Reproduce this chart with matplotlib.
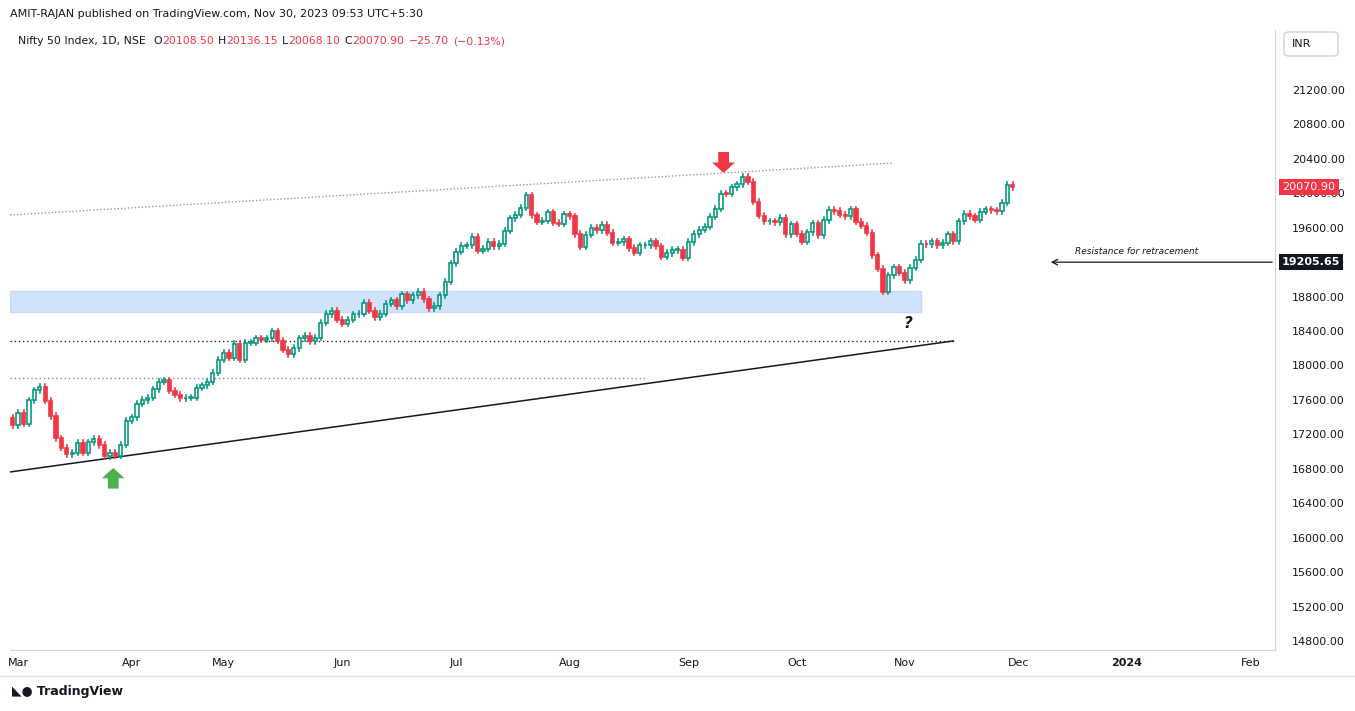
import numpy as np
import matplotlib.pyplot as plt
from matplotlib.patches import Rectangle, FancyBboxPatch, Polygon

# daily closes, Feb 28 2023 .. Nov 30 2023 (trading days)
dates = ["Feb 28",
         "Mar 1", "Mar 2", "Mar 3", "Mar 6", "Mar 8", "Mar 9", "Mar 10", "Mar 13", "Mar 14", "Mar 15",
         "Mar 16", "Mar 17", "Mar 20", "Mar 21", "Mar 22", "Mar 23", "Mar 24", "Mar 27", "Mar 28", "Mar 29", "Mar 31",
         "Apr 3", "Apr 5", "Apr 6", "Apr 10", "Apr 11", "Apr 12", "Apr 13", "Apr 17", "Apr 18", "Apr 19",
         "Apr 20", "Apr 21", "Apr 24", "Apr 25", "Apr 26", "Apr 27", "Apr 28",
         "May 2", "May 3", "May 4", "May 5", "May 8", "May 9", "May 10", "May 11", "May 12", "May 15", "May 16",
         "May 17", "May 18", "May 19", "May 22", "May 23", "May 24", "May 25", "May 26", "May 29", "May 30", "May 31",
         "Jun 1", "Jun 2", "Jun 5", "Jun 6", "Jun 7", "Jun 8", "Jun 9", "Jun 12", "Jun 13", "Jun 14", "Jun 15",
         "Jun 16", "Jun 19", "Jun 20", "Jun 21", "Jun 22", "Jun 23", "Jun 26", "Jun 27", "Jun 28", "Jun 30",
         "Jul 3", "Jul 4", "Jul 5", "Jul 6", "Jul 7", "Jul 10", "Jul 11", "Jul 12", "Jul 13", "Jul 14", "Jul 17",
         "Jul 18", "Jul 19", "Jul 20", "Jul 21", "Jul 24", "Jul 25", "Jul 26", "Jul 27", "Jul 28", "Jul 31",
         "Aug 1", "Aug 2", "Aug 3", "Aug 4", "Aug 7", "Aug 8", "Aug 9", "Aug 10", "Aug 11", "Aug 14", "Aug 16",
         "Aug 17", "Aug 18", "Aug 21", "Aug 22", "Aug 23", "Aug 24", "Aug 25", "Aug 28", "Aug 29", "Aug 30", "Aug 31",
         "Sep 1", "Sep 4", "Sep 5", "Sep 6", "Sep 7", "Sep 8", "Sep 11", "Sep 12", "Sep 13", "Sep 14", "Sep 15",
         "Sep 18", "Sep 20", "Sep 21", "Sep 22", "Sep 25", "Sep 26", "Sep 27", "Sep 28", "Sep 29",
         "Oct 3", "Oct 4", "Oct 5", "Oct 6", "Oct 9", "Oct 10", "Oct 11", "Oct 12", "Oct 13", "Oct 16", "Oct 17",
         "Oct 18", "Oct 19", "Oct 20", "Oct 23", "Oct 25", "Oct 26", "Oct 27", "Oct 30", "Oct 31",
         "Nov 1", "Nov 2", "Nov 3", "Nov 6", "Nov 7", "Nov 8", "Nov 9", "Nov 10", "Nov 12", "Nov 13", "Nov 15",
         "Nov 16", "Nov 17", "Nov 20", "Nov 21", "Nov 22", "Nov 23", "Nov 24", "Nov 28", "Nov 29", "Nov 30"]

closes = [17304,
          17451, 17322, 17594, 17711, 17754, 17589, 17413, 17154, 17043, 16972,
          16985, 17100, 16988, 17107, 17151, 17077, 16945, 16986, 16951, 17081, 17360,
          17398, 17557, 17599, 17624, 17722, 17812, 17828, 17707, 17660, 17618,
          17624, 17624, 17743, 17769, 17813, 17915, 18065,
          18148, 18090, 18255, 18069, 18264, 18266, 18315, 18297, 18315, 18398, 18286,
          18181, 18129, 18203, 18314, 18348, 18285, 18321, 18499, 18598, 18633, 18534,
          18487, 18534, 18593, 18599, 18726, 18634, 18563, 18601, 18716, 18755, 18688,
          18826, 18755, 18817, 18856, 18771, 18665, 18691, 18817, 18972, 19189,
          19322, 19389, 19398, 19497, 19332, 19355, 19439, 19384, 19413, 19565, 19711,
          19749, 19833, 19979, 19745, 19672, 19680, 19778, 19659, 19646, 19754,
          19733, 19527, 19382, 19517, 19597, 19571, 19633, 19543, 19428, 19434, 19465,
          19365, 19310, 19394, 19396, 19444, 19386, 19265, 19306, 19342, 19347, 19254,
          19435, 19528, 19575, 19611, 19727, 19820, 19996, 19993, 20070, 20103, 20192,
          20133, 19901, 19742, 19674, 19674, 19665, 19716, 19524, 19638,
          19529, 19436, 19545, 19654, 19513, 19690, 19811, 19794, 19751, 19731, 19812,
          19671, 19625, 19543, 19282, 19122, 18857, 19047, 19141, 19080,
          18989, 19134, 19231, 19412, 19407, 19444, 19395, 19425, 19525, 19444, 19676,
          19765, 19732, 19694, 19784, 19812, 19802, 19795, 19890, 20097, 20071]
first_open = 17392

month_labels = ["Mar", "Apr", "May", "Jun", "Jul", "Aug", "Sep", "Oct", "Nov", "Dec", "2024", "Feb"]
month_idx = [1, 22, 39, 61, 82, 103, 125, 145, 165, 186, 206, 229]
yticks = np.arange(14800, 21201, 400)

UP, DN = "#089981", "#f23645"
W, H = 1355, 711
fig = plt.figure(figsize=(W / 100, H / 100), dpi=100)
ax = fig.add_axes([10 / W, 61 / H, 1265 / W, 620 / H])

x = np.arange(len(closes))
opens = [first_open] + closes[:-1]
for i, (o, c) in enumerate(zip(opens, closes)):
    hi, lo = max(o, c) + 30, min(o, c) - 30
    col = UP if c >= o else DN
    ax.plot([i, i], [lo, hi], color=col, lw=1.2, zorder=3)
    ax.add_patch(Rectangle((i - 0.3, min(o, c)), 0.6, max(abs(c - o), 6),
                           facecolor="white" if c >= o else DN, edgecolor=col, lw=1.2, zorder=4))

# drawings
ax.plot([-0.5, 163], [19748, 20352], color="#999999", lw=1, ls=(0, (1, 1.5)))
ax.add_patch(Rectangle((-0.5, 18622), 168.6, 244, facecolor="#d1e3fb", edgecolor="#c3dafa", zorder=1))
ax.plot([-0.5, 174], [18285, 18285], color="#222222", lw=1, ls=(0, (1, 2)))
ax.plot([-0.5, 117], [17855, 17855], color="#888888", lw=1, ls=(0, (1, 2)))
ax.plot([-0.5, 174], [16763, 18285], color="#131722", lw=1.1)


def arrow(xc, tip, base, color):
    mid = tip + (base - tip) * 0.5
    ax.add_patch(Polygon([(xc, tip), (xc - 2.1, mid), (xc - 1.0, mid), (xc - 1.0, base),
                          (xc + 1.0, base), (xc + 1.0, mid), (xc + 2.1, mid)],
                         closed=True, facecolor=color, edgecolor="none", zorder=5))


arrow(18.6, 16810, 16570, "#4caf50")
arrow(131.5, 20236, 20480, "#f23645")
ax.text(165.5, 18430, "?", fontsize=11, fontstyle="italic", fontweight="bold", color="#131722", ha="center")
ax.annotate("", xy=(191.5, 19200), xytext=(233.5, 19200),
            arrowprops=dict(arrowstyle="->", color="#131722", lw=0.9))
ax.text(196.5, 19300, "Resistance for retracement", fontsize=6.5, fontstyle="italic", color="#131722")

ax.set_xlim(-0.5, 233.5)
ax.set_ylim(14695, 21897)
ax.yaxis.tick_right()
ax.set_yticks(yticks)
ax.set_yticklabels(["%.2f" % v for v in yticks])
ax.set_xticks(month_idx)
ax.set_xticklabels(month_labels)
for t in ax.get_xticklabels():
    if t.get_text() == "2024":
        t.set_fontweight("bold")
ax.tick_params(axis="both", labelsize=8, colors="#131722", length=0, pad=6)
ax.tick_params(axis="y", pad=12)
for side in ["top", "left"]:
    ax.spines[side].set_visible(False)
for side in ["right", "bottom"]:
    ax.spines[side].set_color("#d0d3db")


# last price / marker labels on the price scale
def fig_y(v):
    return (61 + 620 * (v - 14695) / (21897 - 14695)) / H


fig.patches.append(Rectangle((1279 / W, fig_y(20071) - 8 / H), 60 / W, 16 / H, transform=fig.transFigure,
                             facecolor=DN, edgecolor="none", zorder=10))
fig.text(1309 / W, fig_y(20071), "20070.90", fontsize=8, color="white", va="center", ha="center", zorder=11)
fig.patches.append(Rectangle((1279 / W, fig_y(19205.65) - 8 / H), 64 / W, 16 / H, transform=fig.transFigure,
                             facecolor="#131722", edgecolor="none", zorder=10))
fig.text(1311 / W, fig_y(19205.65), "19205.65", fontsize=8, color="white", fontweight="bold",
         va="center", ha="center", zorder=11)

# header / footer
fig.text(10 / W, 1 - 14 / H, "AMIT-RAJAN published on TradingView.com, Nov 30, 2023 09:53 UTC+5:30",
         fontsize=8, color="#131722", va="center")
r = fig.canvas.get_renderer()
px = 18
for s, col, gap in [("Nifty 50 Index, 1D, NSE", "#131722", 8), ("O", "#131722", 0), ("20108.50", DN, 4),
                    ("H", "#131722", 0), ("20136.15", DN, 4), ("L", "#131722", 0), ("20068.10", DN, 4),
                    ("C", "#131722", 0), ("20070.90", DN, 5), ("\u221225.70", DN, 4), ("(\u22120.13%)", DN, 0)]:
    t = fig.text(px / W, 1 - 41 / H, s, fontsize=7.8, color=col, va="center")
    px += t.get_window_extent(r).width + gap
fig.patches.append(FancyBboxPatch((1284 / W, 1 - 56 / H), 54 / W, 24 / H, boxstyle="round,pad=0,rounding_size=0.004",
                                  transform=fig.transFigure, facecolor="white", edgecolor="#d0d3db", lw=1))
fig.text(1292 / W, 1 - 44 / H, "INR", fontsize=8, color="#131722", va="center")
fig.text(12 / W, 1 - 692 / H, "\u25e3\u25cf TradingView", fontsize=9, color="#131722", va="center", fontweight="bold")
fig.lines.append(plt.Line2D([0, 1], [1 - 676 / H] * 2, transform=fig.transFigure, color="#e0e3eb", lw=1))

fig.savefig("out.png", dpi=100)
